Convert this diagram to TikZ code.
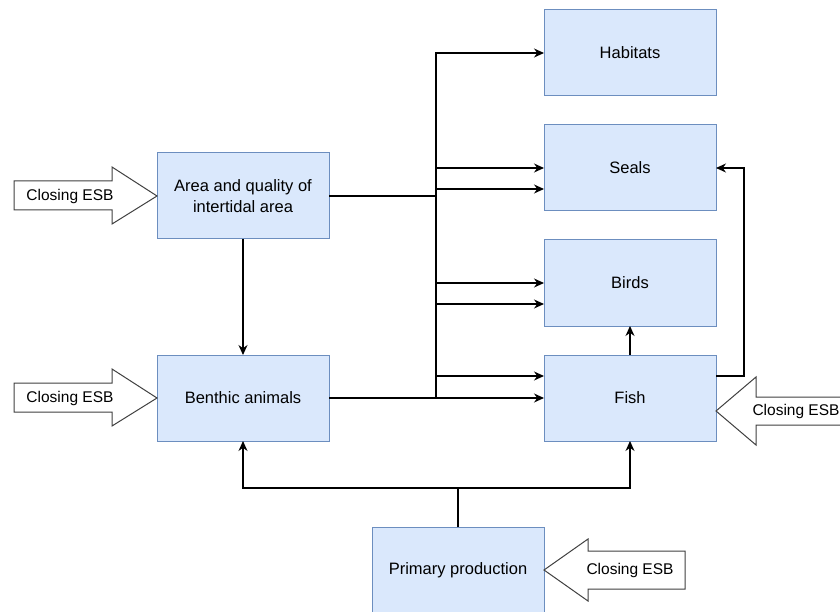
\documentclass[tikz,border=0pt]{standalone}
\usepackage{fontspec}
\setmainfont{Liberation Sans}
\usetikzlibrary{arrows.meta,positioning}
\definecolor{boxfill}{HTML}{DAE8FC}
\definecolor{boxline}{HTML}{6C8EBF}
\tikzset{
  box/.style={draw=boxline,fill=boxfill,line width=1pt,minimum width=172pt,minimum height=86pt,
    inner sep=0pt,outer sep=0pt,align=center,font=\fontsize{16.5}{21}\selectfont},
  link/.style={line width=1.1pt,-{Stealth[length=10pt,width=9pt]}},
  esb/.style={draw=black!75,fill=white,line width=1pt},
  esbtext/.style={inner sep=0pt,font=\fontsize{15.5}{18}\selectfont}
}
\begin{document}
\begin{tikzpicture}[x=1pt,y=-1pt]
	\useasboundingbox (0,0) rectangle (840,612);
	\node[box] (hab) at (630,53) {Habitats};
	\node[box,below=29pt of hab] (seals) {Seals};
	\node[box,below=29pt of seals] (birds) {Birds};
	\node[box,below=29pt of birds] (fish) {Fish};
	\node[box,left=215pt of fish] (benthic) {Benthic animals};
	\node[box,above=116pt of benthic] (area) {Area and quality of\\intertidal area};
	\node[box] (prim) at (458,570) {Primary production};
	% links from the two left boxes
	\coordinate (trunk) at (436,0);
	\coordinate (jA) at (area.east -| trunk); \coordinate (jB) at (benthic.east -| trunk);
	\draw[line width=1.1pt] (area.east) -- (jA);
	\foreach \t in {hab,seals,birds} {
		\draw[link] (jA) |- (\t.west);
	}
	\draw[link] (jA) |- ([yshift=22pt]fish.west);
	\foreach \t in {seals,birds} {
		\draw[link] (jB) |- ([yshift=-21pt]\t.west);
	}
	\draw[link] (benthic.east) -- (fish.west);
	\draw[link] (area) -- (benthic);
	\draw[link] (fish) -- (birds);
	\coordinate (jS) at ([xshift=28pt,yshift=22pt]fish.east);
	\draw[link] ([yshift=22pt]fish.east) -- (jS) |- (seals.east);
	\coordinate (jP) at (458,488);
	\draw[line width=1.1pt] (prim.north) -- (jP);
	\draw[link] (jP) -| (benthic.south);
	\draw[link] (jP) -| (fish.south);
	% closing ESB arrows
	\foreach \t in {area,benthic} {
		\draw[esb] (\t.west) -- ++(-45,-29) -- ++(0,14) -- ++(-98,0) -- ++(0,29) -- ++(98,0) -- ++(0,14) -- cycle;
		\node[esbtext] (esb-\t) at ([xshift=-87pt]\t.west) {Closing ESB};
	}
	\draw[esb] ([yshift=-13pt]fish.east) -- ++(40,-34) -- ++(0,20) -- ++(90,0) -- ++(0,28) -- ++(-90,0) -- ++(0,20) -- cycle;
	\node[esbtext] (esb-fish) at (796,411) {Closing ESB};
	\draw[esb] (prim.east) -- ++(44,-31) -- ++(0,12) -- ++(97,0) -- ++(0,38) -- ++(-97,0) -- ++(0,12) -- cycle;
	\node[esbtext] (esb-prim) at (630,570) {Closing ESB};
\end{tikzpicture}
\end{document}
